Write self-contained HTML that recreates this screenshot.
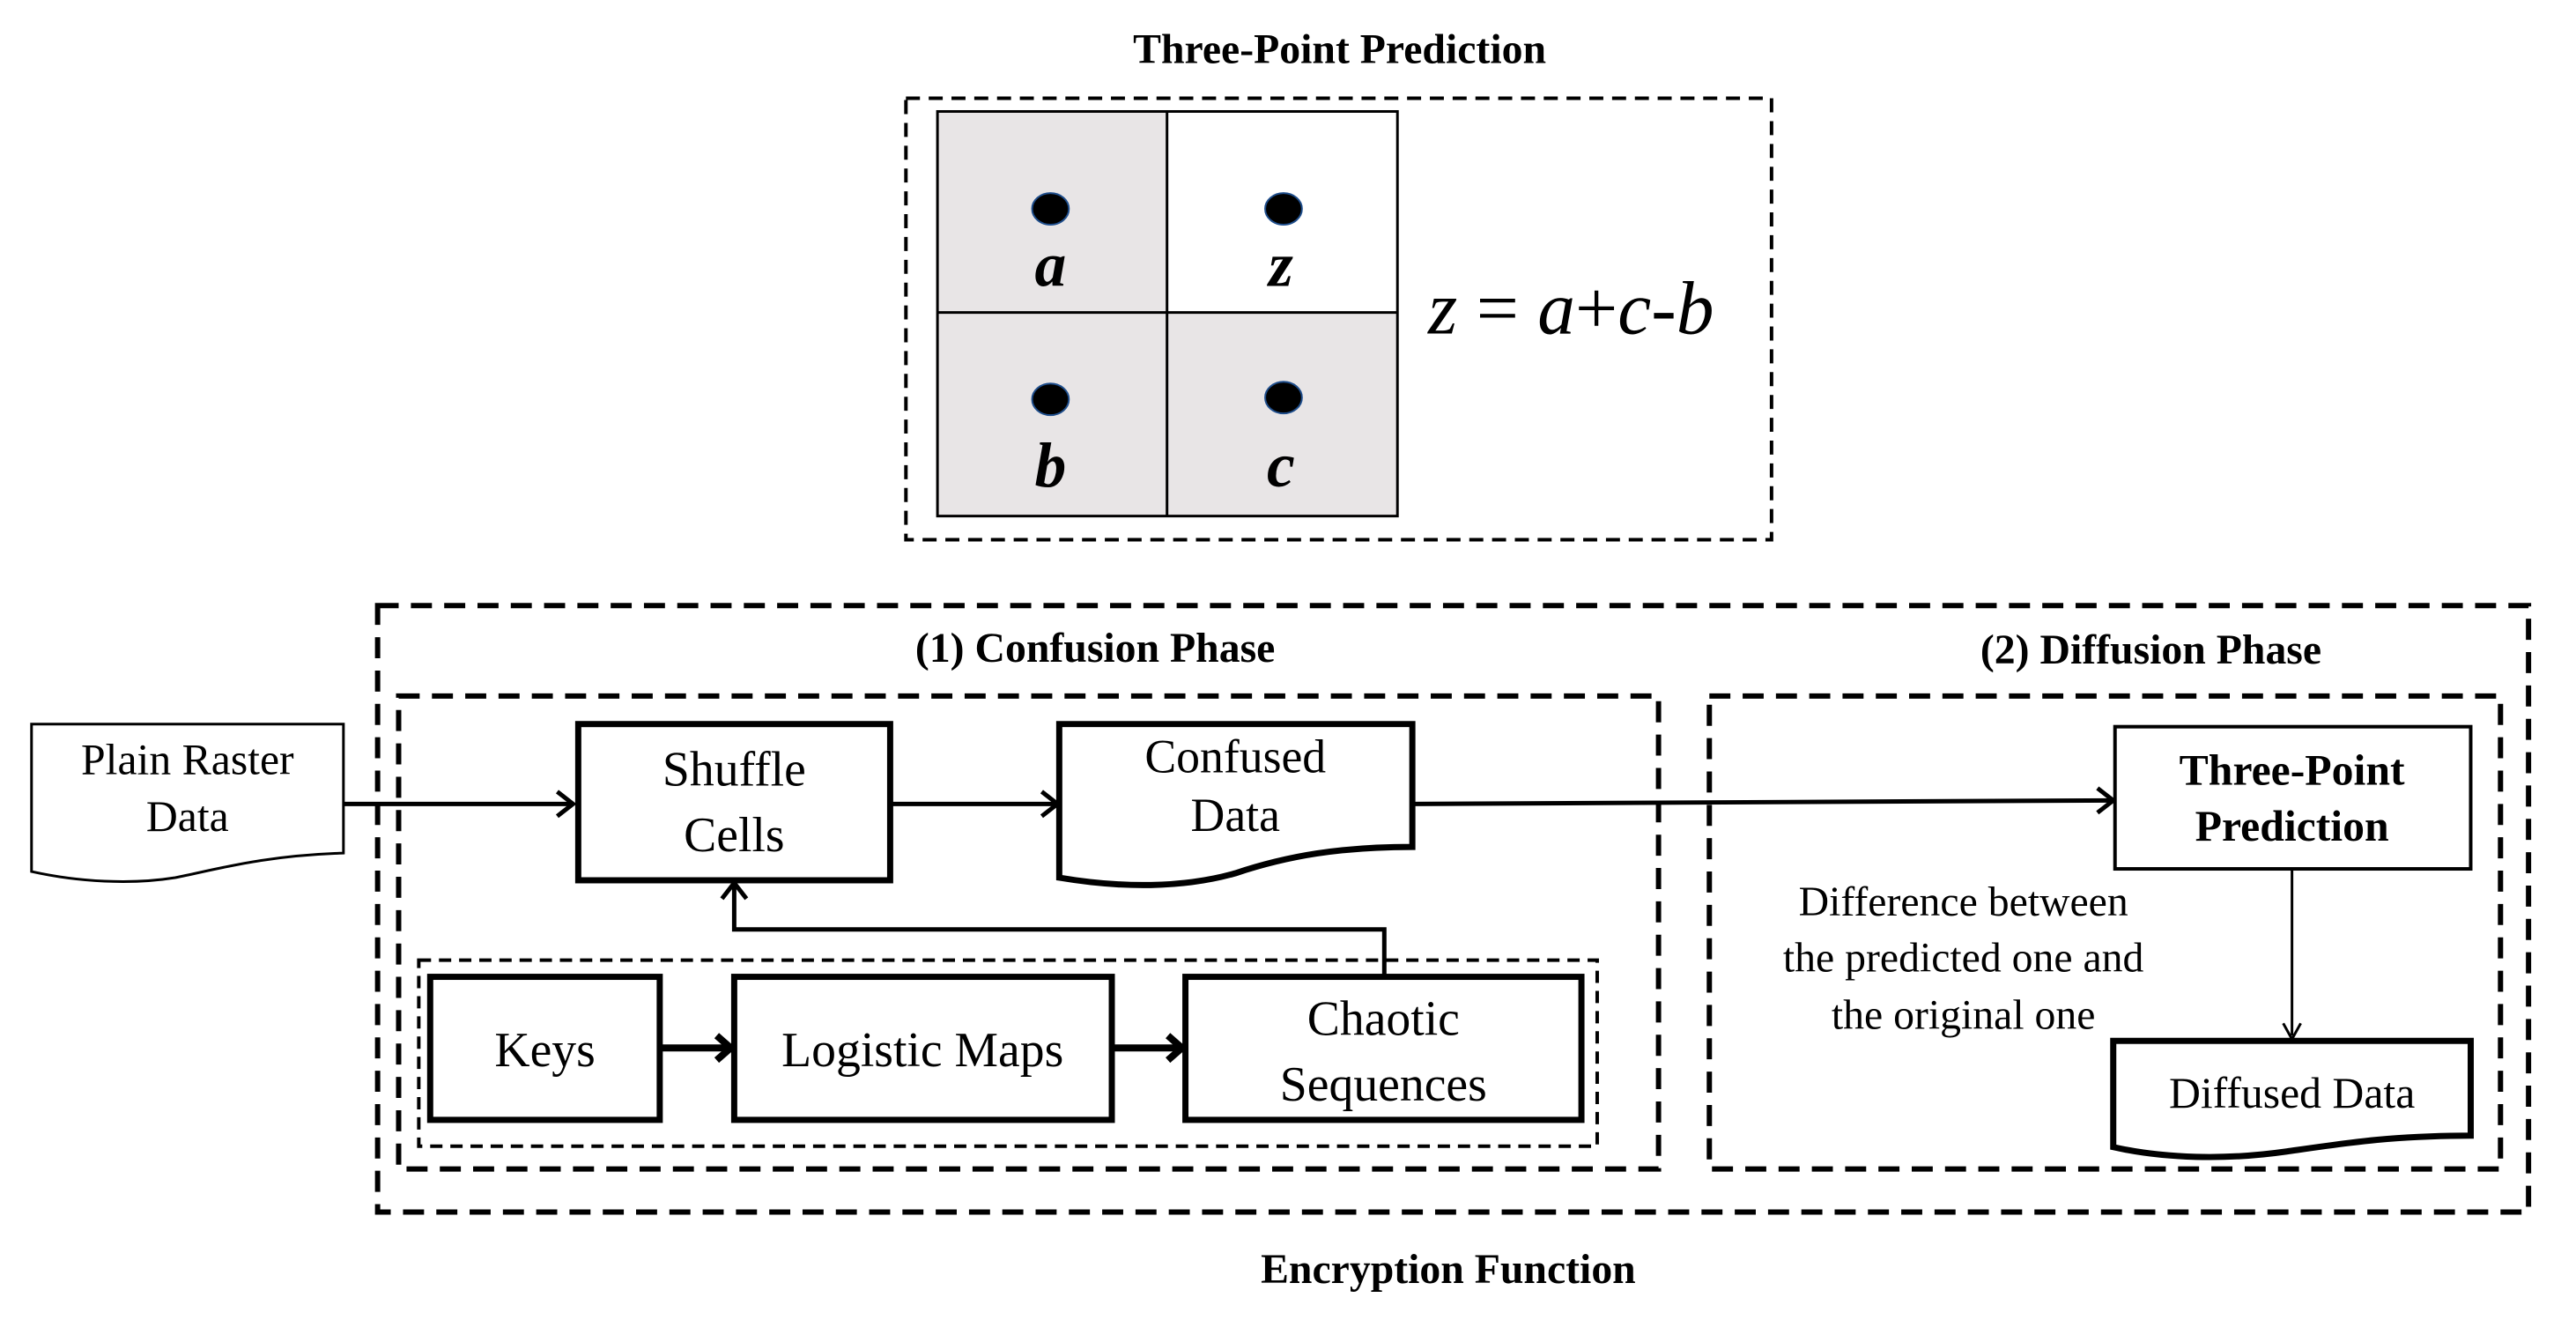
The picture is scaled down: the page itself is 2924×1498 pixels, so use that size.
<!DOCTYPE html>
<html><head><meta charset="utf-8"><style>
html,body{margin:0;padding:0;background:#fff;}
svg{display:block;}
text{font-family:"Liberation Serif","Times New Roman","DejaVu Serif",serif;fill:#000;}
</style></head><body>
<svg width="2924" height="1498" viewBox="0 0 2924 1498" xmlns="http://www.w3.org/2000/svg" font-family="Liberation Serif, serif">
<g transform="scale(0.9945 0.996)">
<text x="1529" y="72" font-size="48" font-weight="bold" text-anchor="middle">Three-Point Prediction</text>
<rect x="1034" y="112" width="988" height="503" fill="none" stroke="#000" stroke-width="4" stroke-dasharray="16 10"/>
<rect x="1070" y="127" width="262" height="229" fill="#e8e5e6"/>
<rect x="1070" y="356" width="262" height="232" fill="#e8e5e6"/>
<rect x="1332" y="356" width="263" height="232" fill="#e8e5e6"/>
<rect x="1070" y="127" width="525" height="461" fill="none" stroke="#000" stroke-width="3"/>
<line x1="1332" y1="127" x2="1332" y2="588" stroke="#000" stroke-width="3"/>
<line x1="1070" y1="356" x2="1595" y2="356" stroke="#000" stroke-width="3"/>
<g fill="#000" stroke="#1f4e8c" stroke-width="2">
<ellipse cx="1199" cy="238" rx="21" ry="18"/>
<ellipse cx="1465" cy="238" rx="21" ry="18"/>
<ellipse cx="1199" cy="455" rx="21" ry="18"/>
<ellipse cx="1465" cy="453" rx="21" ry="18"/>
</g>
<g font-size="72" font-weight="bold" font-style="italic" text-anchor="middle">
<text x="1199" y="326">a</text>
<text x="1462" y="326">z</text>
<text x="1199" y="554">b</text>
<text x="1462" y="554">c</text>
</g>
<text x="1630" y="380" font-size="86" font-style="italic">z <tspan font-style="normal">=</tspan> a<tspan font-style="normal">+</tspan>c-b</text>

<rect x="431" y="690" width="2455" height="691" fill="none" stroke="#000" stroke-width="6" stroke-dasharray="24 14"/>
<text x="1250" y="754" font-size="48" font-weight="bold" text-anchor="middle">(1) Confusion Phase</text>
<text x="2455" y="756" font-size="48" font-weight="bold" text-anchor="middle">(2) Diffusion Phase</text>
<rect x="455" y="793" width="1438" height="539" fill="none" stroke="#000" stroke-width="6" stroke-dasharray="24 14"/>
<rect x="1951" y="793" width="903" height="539" fill="none" stroke="#000" stroke-width="6" stroke-dasharray="24 14"/>
<rect x="478" y="1094" width="1345" height="212" fill="none" stroke="#000" stroke-width="4" stroke-dasharray="14 9"/>

<path d="M36 825 H392 V972 C300 975 250 990 200 1000 C150 1008 90 1005 36 993 Z" fill="#fff" stroke="#000" stroke-width="3"/>
<text x="214" y="882" font-size="50" text-anchor="middle">Plain Raster</text>
<text x="214" y="947" font-size="50" text-anchor="middle">Data</text>

<g stroke="#000" stroke-width="5" fill="none">
<line x1="392" y1="916" x2="652" y2="916"/>
<polyline points="636,902 654,916 636,930"/>
<line x1="1016" y1="916" x2="1205" y2="916"/>
<polyline points="1189,902 1207,916 1189,930"/>
<line x1="1612" y1="916" x2="2410" y2="912"/>
<polyline points="2394,898 2412,912 2394,926"/>
<polyline points="1580,1113 1580,1059 838,1059 838,1008"/>
<polyline points="824,1024 838,1006 852,1024"/>
</g>
<g stroke="#000" stroke-width="8" fill="none">
<line x1="753" y1="1194" x2="832" y2="1194"/>
<polyline points="818,1180 834,1194 818,1208"/>
<line x1="1269" y1="1194" x2="1347" y2="1194"/>
<polyline points="1333,1180 1349,1194 1333,1208"/>
</g>
<g stroke="#000" stroke-width="3" fill="none">
<line x1="2616" y1="990" x2="2616" y2="1180"/>
<polyline points="2606,1166 2616,1184 2626,1166"/>
</g>

<rect x="660" y="825" width="356" height="178" fill="#fff" stroke="#000" stroke-width="7"/>
<text x="838" y="895" font-size="56" text-anchor="middle">Shuffle</text>
<text x="838" y="970" font-size="56" text-anchor="middle">Cells</text>

<path d="M1209 825 H1612 V965 C1530 965 1470 975 1410 995 C1350 1012 1280 1012 1209 1000 Z" fill="#fff" stroke="#000" stroke-width="7"/>
<text x="1410" y="880" font-size="54" text-anchor="middle">Confused</text>
<text x="1410" y="947" font-size="54" text-anchor="middle">Data</text>

<rect x="2414" y="828" width="406" height="162" fill="#fff" stroke="#000" stroke-width="4"/>
<text x="2616" y="894" font-size="50" font-weight="bold" text-anchor="middle">Three-Point</text>
<text x="2616" y="958" font-size="50" font-weight="bold" text-anchor="middle">Prediction</text>

<g font-size="48" text-anchor="middle">
<text x="2241" y="1043">Difference between</text>
<text x="2241" y="1107">the predicted one and</text>
<text x="2241" y="1172">the original one</text>
</g>

<path d="M2412 1186 H2820 V1294 C2730 1294 2680 1302 2610 1312 C2540 1322 2470 1320 2412 1307 Z" fill="#fff" stroke="#000" stroke-width="7"/>
<text x="2616" y="1262" font-size="50" text-anchor="middle">Diffused Data</text>

<rect x="491" y="1113" width="262" height="163" fill="#fff" stroke="#000" stroke-width="7"/>
<text x="622" y="1215" font-size="56" text-anchor="middle">Keys</text>
<rect x="838" y="1113" width="431" height="163" fill="#fff" stroke="#000" stroke-width="7"/>
<text x="1053" y="1215" font-size="56" text-anchor="middle">Logistic Maps</text>
<rect x="1353" y="1113" width="452" height="163" fill="#fff" stroke="#000" stroke-width="7"/>
<text x="1579" y="1179" font-size="56" text-anchor="middle">Chaotic</text>
<text x="1579" y="1254" font-size="56" text-anchor="middle">Sequences</text>

<text x="1653" y="1462" font-size="48" font-weight="bold" text-anchor="middle">Encryption Function</text>
</g>
</svg>
</body></html>
